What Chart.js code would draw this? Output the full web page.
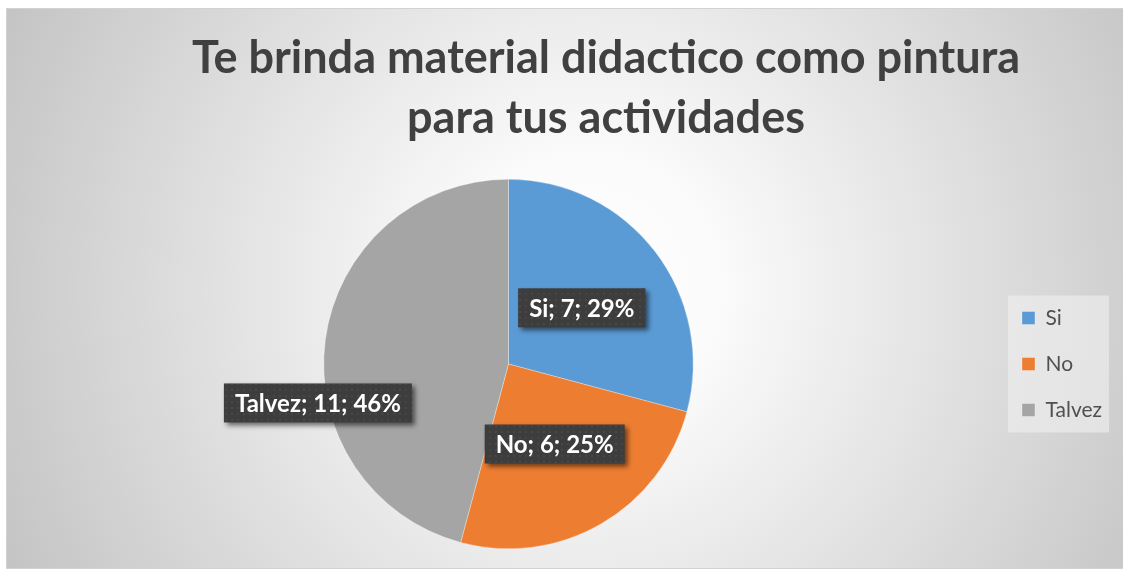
<!DOCTYPE html>
<html>
<head>
<meta charset="utf-8">
<title>Te brinda material didactico como pintura</title>
<script src="https://cdn.jsdelivr.net/npm/chart.js@4/dist/chart.umd.min.js"></script>
<style>
  html, body { margin: 0; padding: 0; background: #fff; }
  #frame {
    position: absolute; left: 7px; top: 9px; width: 1116px; height: 559px;
    background: radial-gradient(circle farthest-corner at 52% 50%, #ffffff 0%, #fbfbfb 20%, #c4c4c4 100%);
    outline: 1px solid #d2d2d2;
  }
</style>
</head>
<body>
<div id="frame"><canvas id="myChart"></canvas></div>
<script>
// survey answers
const titleLines = ['Te brinda material didactico como pintura', 'para tus actividades'];
const categories = ['Si', 'No', 'Talvez'];
const counts = [7, 6, 11];
const sliceColors = ['#5B9BD5', '#ED7D31', '#A5A5A5'];

// dark dotted fill used behind the value labels
function dotPattern(ctx) {
    var c = document.createElement('canvas');
    c.width = 6; c.height = 6;
    var g = c.getContext('2d');
    g.fillStyle = '#3d3d3d';
    g.fillRect(0, 0, 6, 6);
    g.fillStyle = '#474747';
    g.fillRect(2, 2, 2, 2);
    return ctx.createPattern(c, 'repeat');
}

const headline = {
    id: 'headline',
    beforeDraw(chart, args, opts) {
        var ctx = chart.ctx;
        ctx.save();
        ctx.font = opts.font;
        ctx.fillStyle = opts.color;
        ctx.textAlign = 'center';
        ctx.textBaseline = 'alphabetic';
        opts.lines.forEach((line, i) => {
            ctx.fillText(line, opts.x, opts.y + i * opts.lineGap);
        });
        ctx.restore();
    }
};

const legendPanel = {
    id: 'legendPanel',
    beforeDraw(chart, args, opts) {
        var lg = chart.legend;
        if (!lg || !lg.legendHitBoxes.length) return;
        var boxes = lg.legendHitBoxes;
        var first = boxes[0], last = boxes[boxes.length - 1];
        var ctx = chart.ctx;
        ctx.save();
        ctx.fillStyle = opts.color;
        var x0 = first.left - 14, y0 = first.top - 12;
        ctx.fillRect(x0, y0, lg.right - 3 - x0, last.top + last.height + 12 - y0);
        ctx.restore();
    }
};

const sliceLabels = {
    id: 'sliceLabels',
    afterDatasetsDraw(chart, args, opts) {
        var ctx = chart.ctx;
        var meta = chart.getDatasetMeta(0);
        var data = chart.data.datasets[0].data;
        var total = data.reduce((a, b) => a + b, 0);
        var fill = dotPattern(ctx);
        ctx.save();
        ctx.font = opts.font;
        meta.data.forEach((arc, i) => {
            var p = arc.tooltipPosition();
            var shift = opts.shift[i] || [0, 0];
            var x = p.x + shift[0], y = p.y + shift[1];
            var text = chart.data.labels[i] + '; ' + data[i] + '; ' + Math.round(data[i] / total * 100) + '%';
            var w = ctx.measureText(text).width + opts.padX * 2;
            var h = opts.boxHeight;
            ctx.save();
            ctx.shadowColor = 'rgba(0,0,0,0.55)';
            ctx.shadowBlur = 5;
            ctx.shadowOffsetX = 3;
            ctx.shadowOffsetY = 3;
            ctx.fillStyle = fill;
            ctx.fillRect(x - w / 2, y - h / 2, w, h);
            ctx.restore();
            ctx.fillStyle = '#ffffff';
            ctx.textAlign = 'center';
            ctx.textBaseline = 'middle';
            ctx.fillText(text, x, y + 1);
        });
        ctx.restore();
    }
};

new Chart(document.getElementById('myChart'), {
    type: 'pie',
    data: {
        labels: categories,
        datasets: [{
            data: counts,
            backgroundColor: sliceColors,
            borderColor: 'rgba(255,255,255,0.6)',
            borderWidth: 0.5
        }]
    },
    plugins: [headline, legendPanel, sliceLabels],
    options: {
        responsive: true,
        maintainAspectRatio: false,
        animation: false,
        layout: { padding: { top: 170, bottom: 19, left: 13, right: 11 } },
        plugins: {
            tooltip: { enabled: false },
            headline: {
                lines: titleLines,
                font: 'bold 45px Lato',
                color: '#404040',
                x: 599,
                y: 64,
                lineGap: 60
            },
            legendPanel: { color: 'rgba(240,240,240,0.6)' },
            sliceLabels: {
                font: 'bold 24px Lato',
                padX: 11,
                boxHeight: 39,
                shift: [[0, 0], [0, 0], [-99, 51]]
            },
            legend: {
                position: 'right',
                align: 'center',
                labels: {
                    boxWidth: 13,
                    boxHeight: 13,
                    padding: 25,
                    color: '#505050',
                    font: { family: 'Lato', size: 21 }
                }
            }
        }
    }
});
</script>
</body>
</html>
